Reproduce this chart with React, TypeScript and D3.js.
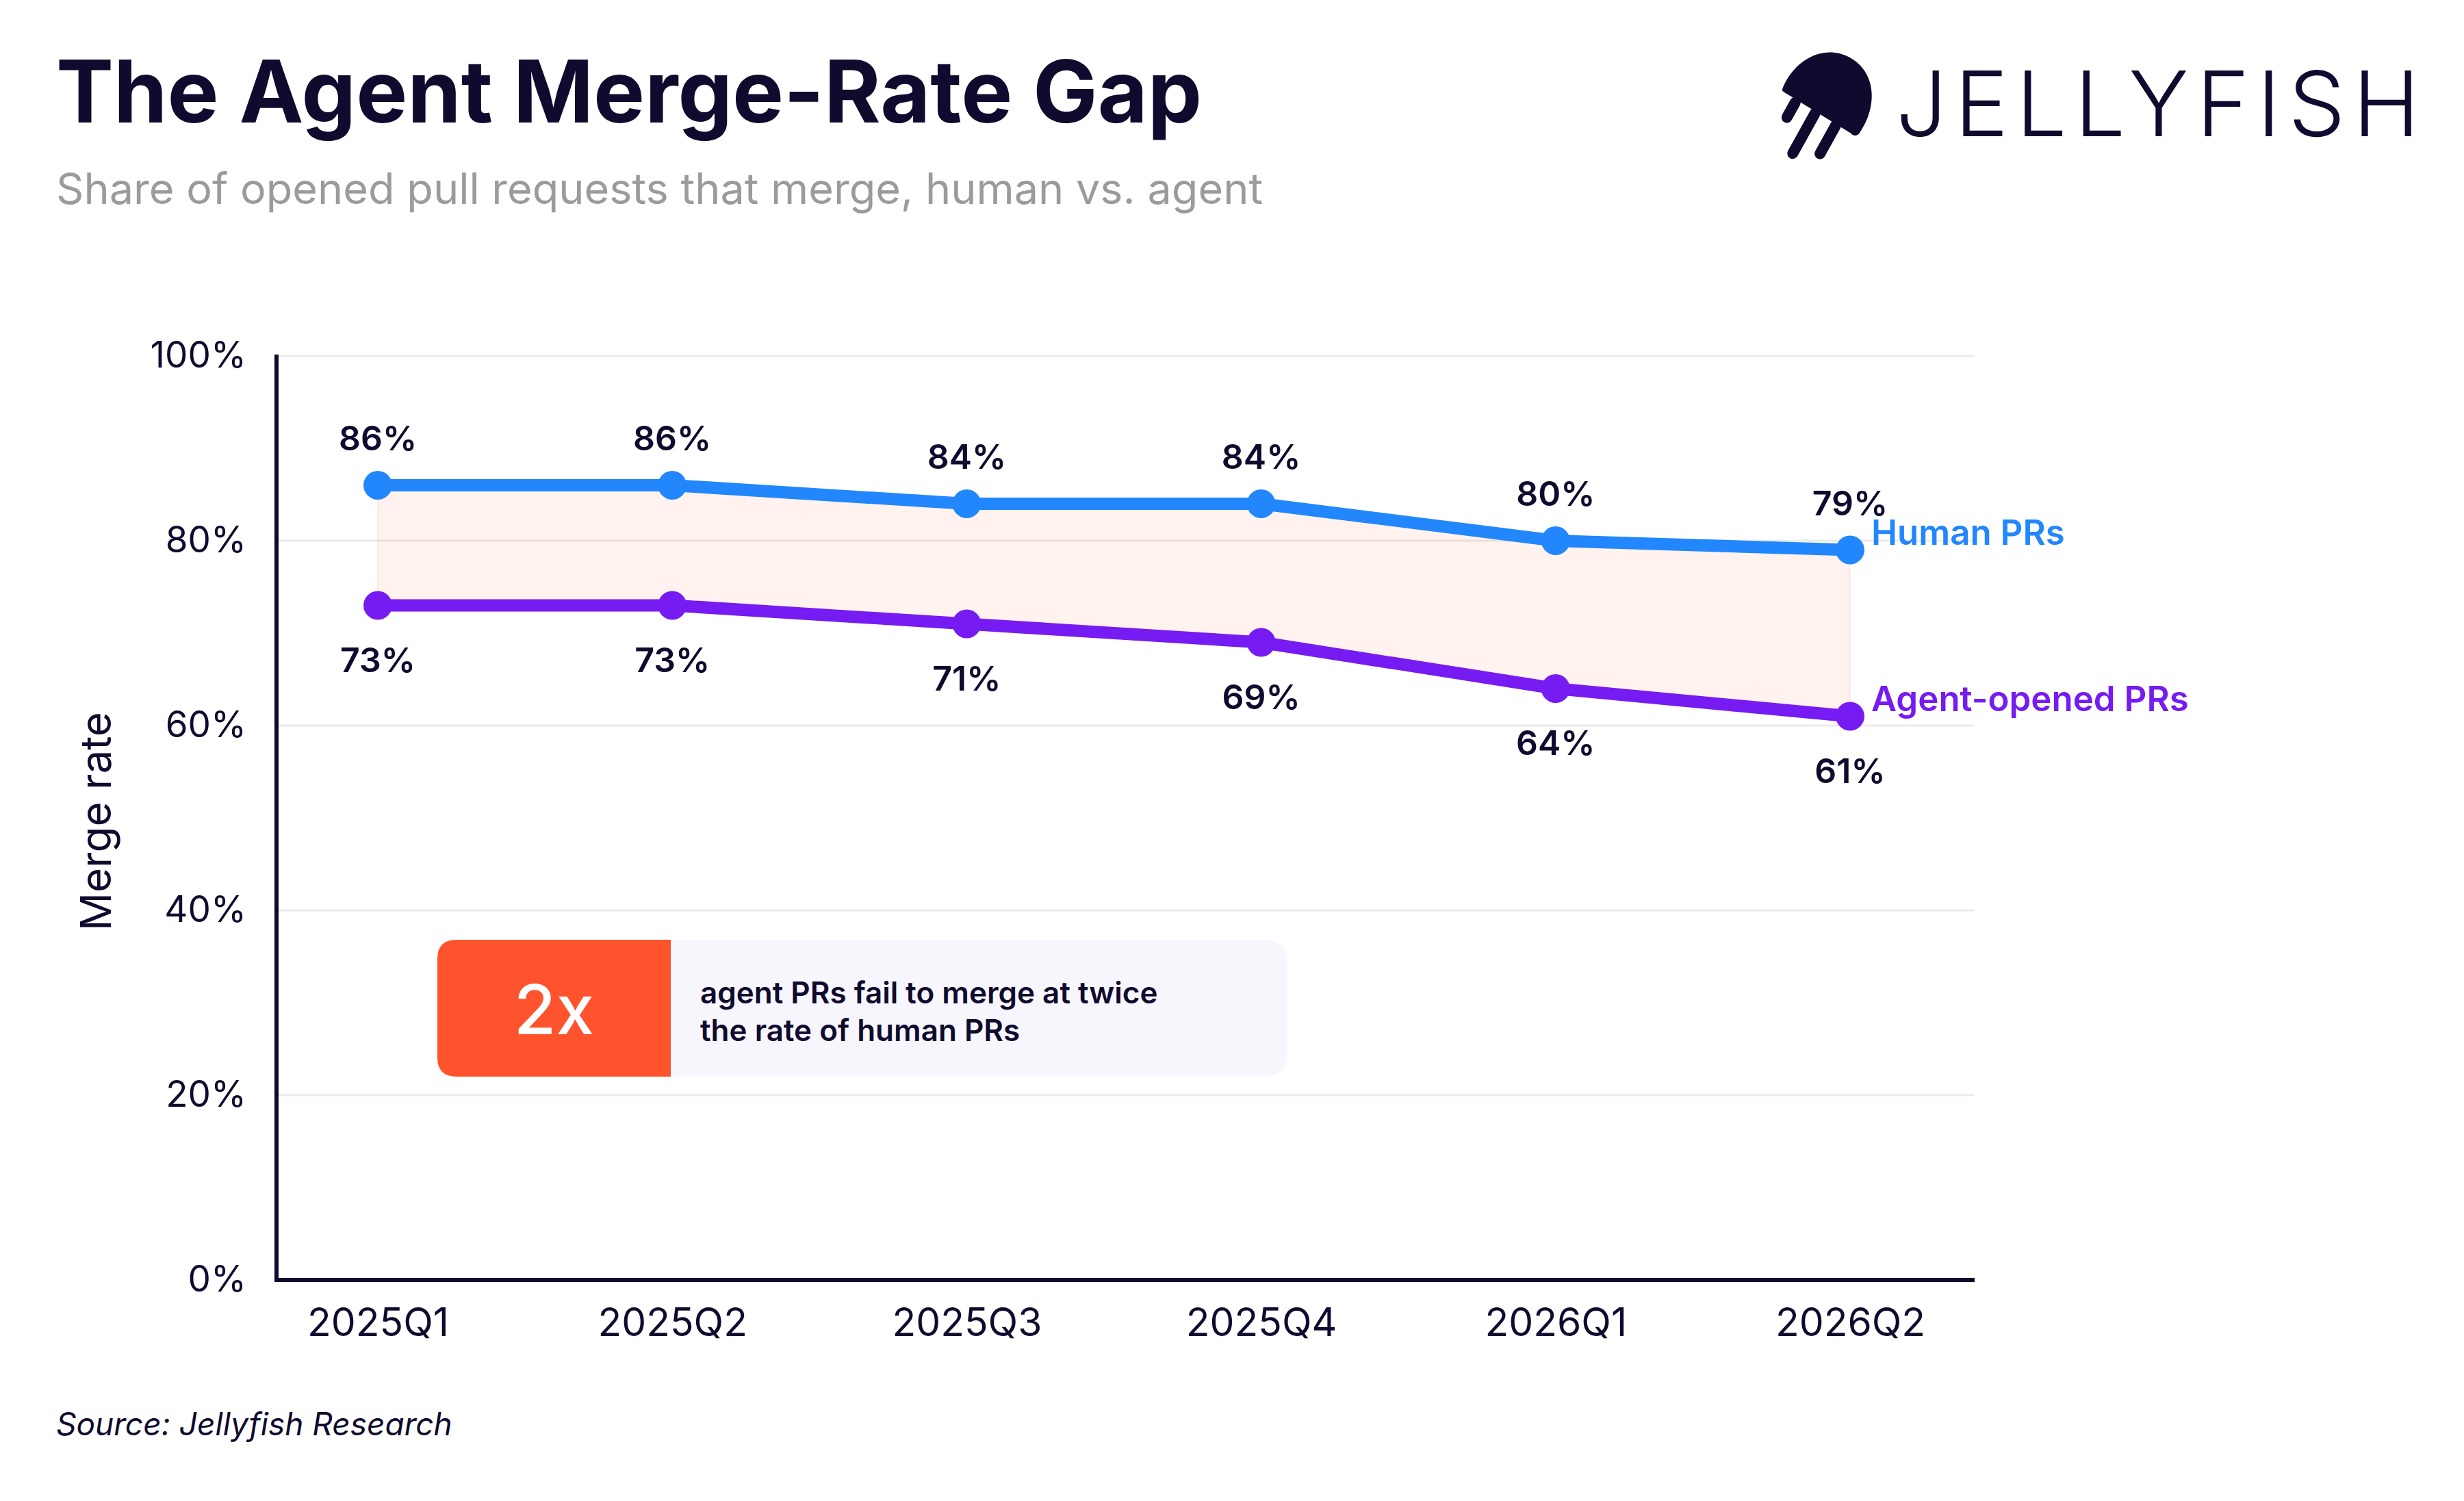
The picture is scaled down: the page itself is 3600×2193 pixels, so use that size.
import * as d3 from "d3";
import { useEffect, useRef } from "react";

const QUARTERS = ["2025Q1", "2025Q2", "2025Q3", "2025Q4", "2026Q1", "2026Q2"];
const HUMAN_RATES = [86, 86, 84, 84, 80, 79];
const AGENT_RATES = [73, 73, 71, 69, 64, 61];
const Y_TICKS = [0, 20, 40, 60, 80, 100];
const CALLOUT_LINES = ["agent PRs fail to merge at twice", "the rate of human PRs"];

const W = 3600;
const H = 2193;
const NAVY = "#0f0b2e";
const BLUE = "#2287fc";
const PURPLE = "#761bf1";
const ORANGE = "#ff532d";
const FONT = "Inter, 'Noto Sans', sans-serif";

export default function App() {
    const svgRef = useRef<SVGSVGElement | null>(null);

    useEffect(() => {
        if (!svgRef.current) return;
        const svg = d3.select(svgRef.current);
        svg.selectAll("*").remove();

        const x = d3.scalePoint<string>().domain(QUARTERS).range([552, 2703]);
        const y = d3.scaleLinear().domain([0, 100]).range([1870, 520]);
        const left = 404;
        const right = 2885;

        svg.append("rect").attr("width", W).attr("height", H).attr("fill", "#fff");

        // header
        svg.append("text")
            .attr("x", 82)
            .attr("y", 179)
            .attr("font-family", FONT)
            .attr("font-weight", 700)
            .attr("font-size", 126)
            .attr("fill", NAVY)
            .text("The Agent Merge-Rate Gap");
        svg.append("text")
            .attr("x", 82)
            .attr("y", 298)
            .attr("font-family", FONT)
            .attr("font-size", 63)
            .attr("fill", "#9b9b9b")
            .text("Share of opened pull requests that merge, human vs. agent");

        // logo
        const logo = svg.append("g").attr("transform", "translate(2660,161) rotate(29)").attr("fill", NAVY);
        logo.append("path").attr("d", "M -64 0 C -70 -50 -40 -88 0 -88 C 45 -88 70 -45 66 0 C 66 8 60 10 55 8 L -55 3 C -62 3 -64 2 -64 0 Z");
        [
            [-38, 8, 33],
            [-5, 8, 75],
            [30, 8, 56],
        ].forEach(([lx, y0, y1]) => {
            logo.append("line")
                .attr("x1", lx)
                .attr("x2", lx)
                .attr("y1", y0)
                .attr("y2", y1)
                .attr("stroke", NAVY)
                .attr("stroke-width", 16)
                .attr("stroke-linecap", "round");
        });
        svg.append("text")
            .attr("x", 2770)
            .attr("y", 199)
            .attr("font-family", FONT)
            .attr("font-weight", 300)
            .attr("font-size", 132)
            .attr("letter-spacing", 11)
            .attr("fill", NAVY)
            .text("JELLYFISH");

        // grid
        svg.append("g")
            .selectAll("line")
            .data(Y_TICKS.filter((t) => t > 0))
            .enter()
            .append("line")
            .attr("x1", left)
            .attr("x2", right)
            .attr("y1", (d) => y(d))
            .attr("y2", (d) => y(d))
            .attr("stroke", "#ebebeb")
            .attr("stroke-width", 3);

        // gap band
        const band = d3
            .area<number>()
            .x((_, i) => x(QUARTERS[i]) ?? 0)
            .y0((_, i) => y(AGENT_RATES[i]))
            .y1((d) => y(d));
        svg.append("path")
            .attr("d", band(HUMAN_RATES) ?? "")
            .attr("fill", ORANGE)
            .attr("fill-opacity", 0.08)
            .attr("stroke", ORANGE)
            .attr("stroke-opacity", 0.08)
            .attr("stroke-width", 3);

        // axes
        const yAxis = svg
            .append("g")
            .attr("transform", `translate(${left},0)`)
            .call(
                d3
                    .axisLeft(y)
                    .tickValues(Y_TICKS)
                    .tickFormat((d) => `${d}%`)
                    .tickSize(0)
                    .tickPadding(44)
            );
        yAxis.select(".domain").remove();
        yAxis.selectAll("text").attr("font-family", FONT).attr("font-size", 53).attr("fill", NAVY);

        const xAxis = svg
            .append("g")
            .attr("transform", `translate(0,${y(0)})`)
            .call(d3.axisBottom(x).tickSize(0).tickPadding(42));
        xAxis.select(".domain").remove();
        xAxis.selectAll("text").attr("font-family", FONT).attr("font-size", 57).attr("fill", NAVY);

        svg.append("line")
            .attr("x1", left)
            .attr("x2", left)
            .attr("y1", y(100) - 2)
            .attr("y2", y(0) + 3)
            .attr("stroke", NAVY)
            .attr("stroke-width", 6);
        svg.append("line")
            .attr("x1", left - 3)
            .attr("x2", right)
            .attr("y1", y(0))
            .attr("y2", y(0))
            .attr("stroke", NAVY)
            .attr("stroke-width", 6);

        svg.append("text")
            .attr("transform", "translate(162,1200) rotate(-90)")
            .attr("text-anchor", "middle")
            .attr("font-family", FONT)
            .attr("font-size", 62)
            .attr("fill", NAVY)
            .text("Merge rate");

        // series
        const series = [
            { name: "Human PRs", values: HUMAN_RATES, color: BLUE, labelDy: -51 },
            { name: "Agent-opened PRs", values: AGENT_RATES, color: PURPLE, labelDy: 97 },
        ];
        const line = d3
            .line<number>()
            .x((_, i) => x(QUARTERS[i]) ?? 0)
            .y((d) => y(d));

        series.forEach((s) => {
            const g = svg.append("g");
            g.append("path")
                .attr("d", line(s.values) ?? "")
                .attr("fill", "none")
                .attr("stroke", s.color)
                .attr("stroke-width", 18)
                .attr("stroke-linejoin", "round");
            g.selectAll("circle")
                .data(s.values)
                .enter()
                .append("circle")
                .attr("cx", (_, i) => x(QUARTERS[i]) ?? 0)
                .attr("cy", (d) => y(d))
                .attr("r", 21)
                .attr("fill", s.color);
            g.selectAll("text.value")
                .data(s.values)
                .enter()
                .append("text")
                .attr("class", "value")
                .attr("x", (_, i) => x(QUARTERS[i]) ?? 0)
                .attr("y", (d) => y(d) + s.labelDy)
                .attr("text-anchor", "middle")
                .attr("font-family", FONT)
                .attr("font-weight", 600)
                .attr("font-size", 50)
                .attr("fill", NAVY)
                .text((d) => `${d}%`);
            const last = s.values[s.values.length - 1];
            g.append("text")
                .attr("x", (x(QUARTERS[QUARTERS.length - 1]) ?? 0) + 31)
                .attr("y", y(last) - 8)
                .attr("font-family", FONT)
                .attr("font-weight", 600)
                .attr("font-size", 51)
                .attr("fill", s.color)
                .text(s.name);
        });

        // callout
        const cx0 = 639;
        const cx1 = 1880;
        const cy0 = 1373;
        const cy1 = 1573;
        const split = 980;
        const r = 28;
        svg.append("rect")
            .attr("x", cx0)
            .attr("y", cy0)
            .attr("width", cx1 - cx0)
            .attr("height", cy1 - cy0)
            .attr("rx", r)
            .attr("fill", "#f8f6fd");
        svg.append("path")
            .attr(
                "d",
                `M${split},${cy0} H${cx0 + r} Q${cx0},${cy0} ${cx0},${cy0 + r} V${cy1 - r} Q${cx0},${cy1} ${cx0 + r},${cy1} H${split} Z`
            )
            .attr("fill", ORANGE);
        svg.append("text")
            .attr("x", (cx0 + split) / 2)
            .attr("y", 1511)
            .attr("text-anchor", "middle")
            .attr("font-family", FONT)
            .attr("font-weight", 500)
            .attr("font-size", 100)
            .attr("fill", "#fff")
            .text("2x");
        svg.append("g")
            .selectAll("text")
            .data(CALLOUT_LINES)
            .enter()
            .append("text")
            .attr("x", 1023)
            .attr("y", (_, i) => 1466 + i * 55)
            .attr("font-family", FONT)
            .attr("font-weight", 600)
            .attr("font-size", 44)
            .attr("fill", NAVY)
            .text((d) => d);

        // footer
        svg.append("text")
            .attr("x", 82)
            .attr("y", 2097)
            .attr("font-family", FONT)
            .attr("font-style", "italic")
            .attr("font-size", 46)
            .attr("fill", NAVY)
            .text("Source: Jellyfish Research");

        return () => {
            svg.selectAll("*").remove();
        };
    }, []);

    return (
        <svg
            ref={svgRef}
            width={W}
            height={H}
            style={{ position: "absolute", left: 0, top: 0, display: "block" }}
        />
    );
}
